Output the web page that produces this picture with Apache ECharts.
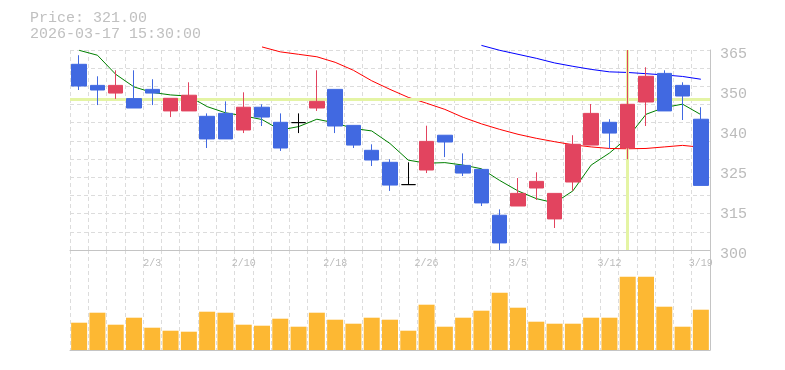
<!DOCTYPE html>
<html>
<head>
<meta charset="utf-8">
<script src="https://cdn.jsdelivr.net/npm/echarts@6/dist/echarts.min.js"></script>
<style>
html,body{margin:0;padding:0;background:#fff;}
#chart{width:785px;height:370px;}
</style>
</head>
<body>
<div id="chart"></div>
<script>
// ---- data ----
const dates = ['1/28','1/29','1/30','2/2','2/3','2/4','2/5','2/6','2/9','2/10','2/12','2/13','2/16','2/17','2/18','2/19','2/20','2/24','2/25','2/26','2/27','3/2','3/3','3/4','3/5','3/6','3/9','3/10','3/11','3/12','3/13','3/16','3/17','3/18','3/19'];
const opens  = [360.35,353.5,351.0,349.2,352.2,345.2,345.2,343.45,344.4,339.0,346.4,341.5,341.4,346.15,352.2,340.5,332.4,328.5,321.25,326.0,337.3,327.5,326.2,311.3,314.3,320.15,310.1,322.1,334.1,341.5,333.15,348.1,357.4,353.5,342.5];
const closes = [353.3,352.0,353.5,346.15,351.0,349.3,350.3,336.1,336.1,346.4,343.2,333.15,341.4,348.3,340.3,334.1,329.25,321.1,321.25,335.3,335.1,325.0,315.3,302.3,318.4,322.3,318.4,334.35,344.4,338.0,347.35,356.45,345.2,350.05,321.0];
const lows   = [352.0,347.1,349.1,346.15,347.1,343.2,345.2,333.15,336.1,338.0,340.3,332.2,338.0,345.2,338.0,333.15,327.3,319.2,321.25,325.0,330.2,324.05,314.3,300.0,314.3,316.25,307.15,319.2,334.1,333.05,329.5,340.3,345.2,342.25,321.0];
const highs  = [363.3,356.45,358.4,358.4,355.5,349.3,354.5,344.4,348.3,351.25,347.35,344.4,344.4,358.4,352.2,340.5,334.35,329.5,328.5,340.4,337.3,331.4,326.2,313.2,323.4,325.25,318.4,337.3,347.45,342.5,365.0,359.4,358.4,354.5,346.4];
const volumes = [27.3,37.3,25.3,32.3,22.3,19.3,18.3,38.3,37.3,25.3,24.3,31.3,23.3,37.3,30.3,26.3,32.3,30.3,19.3,45.3,23.3,32.3,39.3,57.3,42.3,28.3,26.3,26.3,32.3,32.3,73.3,73.3,43.3,23.3,40.3];
const ma5  = [364.9,363.3,357.1,353.0,351.2,350.4,350.0,346.6,344.6,343.6,342.4,339.0,340.1,342.5,341.3,339.5,338.7,334.6,329.2,328.2,328.4,327.6,326.4,322.6,319.2,316.7,315.3,319.2,327.6,331.5,336.5,344.1,346.3,347.4,344.0];
const ma25 = [null,null,null,null,null,null,null,null,null,null,366.0,364.4,363.6,362.8,361.0,358.4,355.0,352.2,349.6,347.7,345.7,343.1,341.0,339.2,337.6,336.3,335.2,334.2,333.5,333.0,332.9,333.0,333.5,334.0,333.4];
const ma75 = [null,null,null,null,null,null,null,null,null,null,null,null,null,null,null,null,null,null,null,null,null,null,366.5,364.9,363.6,362.3,360.8,359.7,358.7,357.9,357.7,357.3,356.9,356.4,355.5];
const yTickValues = [300,315,325,340,350,365];
const priceMin = 300, priceMax = 365, priceStep = 13;
const labelIndexes = [4,9,14,19,24,29,34];
const crossIndex = 30, crossPrice = 349.0;
const titleLines = ['Price: 321.00', '2026-03-17 15:30:00'];

// ---- chart ----
const candles = dates.map((d, i) => [opens[i], closes[i], lows[i], highs[i]]);
const FONT = 'Liberation Mono';
const GRID_LINE = {show: true, lineStyle: {color: '#dcdcdc', type: [4, 3], width: 1}};
const AXIS_LINE = {show: true, lineStyle: {color: '#c4c4c4', width: 1}};

const chart = echarts.init(document.getElementById('chart'), null, {renderer: 'canvas'});
chart.setOption({
  animation: false,
  backgroundColor: '#fff',
  graphic: [
    {type: 'text', left: 30, top: 11, style: {text: titleLines[0], font: '15px "' + FONT + '"', fill: '#c0c0c0'}},
    {type: 'text', left: 30, top: 27, style: {text: titleLines[1], font: '15px "' + FONT + '"', fill: '#c0c0c0'}}
  ],
  grid: [
    {left: 70, right: 75, top: 50, height: 200},
    {left: 70, right: 75, top: 250, height: 100}
  ],
  xAxis: [
    {type: 'category', gridIndex: 0, data: dates, boundaryGap: true,
     axisLine: AXIS_LINE, axisTick: {show: false},
     axisLabel: {interval: (idx) => labelIndexes.indexOf(idx) >= 0, color: '#bbb', fontFamily: FONT, fontSize: 10, margin: 8},
     splitLine: Object.assign({interval: 0}, GRID_LINE)},
    {type: 'category', gridIndex: 1, data: dates, boundaryGap: true,
     axisLine: AXIS_LINE, axisTick: {show: false}, axisLabel: {show: false},
     splitLine: Object.assign({interval: 0}, GRID_LINE)}
  ],
  yAxis: [
    {type: 'value', gridIndex: 0, position: 'right', min: priceMin, max: priceMax, interval: priceStep,
     axisLine: AXIS_LINE, axisTick: {show: false}, splitLine: {show: false},
     axisLabel: {color: '#bbb', fontFamily: FONT, fontSize: 15, margin: 10, verticalAlign: 'top', lineHeight: 8,
       formatter: (v) => String(yTickValues.reduce((a, b) => Math.abs(b - v) < Math.abs(a - v) ? b : a))}},
    {type: 'value', gridIndex: 0, position: 'left', min: 0, max: 11, interval: 1,
     axisLine: {show: false}, axisTick: {show: false}, axisLabel: {show: false},
     splitLine: GRID_LINE},
    {type: 'value', gridIndex: 1, position: 'right', min: 0, max: 100,
     axisLine: AXIS_LINE, axisTick: {show: false}, axisLabel: {show: false}, splitLine: {show: false}}
  ],
  series: [
    {type: 'line', xAxisIndex: 0, yAxisIndex: 0, data: [], z: 1, silent: true,
     markLine: {silent: true, symbol: ['none', 'none'], label: {show: false},
       lineStyle: {color: '#e4f4a4', width: 3, type: 'solid'},
       data: [{xAxis: crossIndex}, {yAxis: crossPrice}]}},
    {name: 'MA5', type: 'line', xAxisIndex: 0, yAxisIndex: 0, data: ma5, showSymbol: false, clip: false, z: 2,
     lineStyle: {color: '#008000', width: 1}},
    {name: 'MA25', type: 'line', xAxisIndex: 0, yAxisIndex: 0, data: ma25, showSymbol: false, clip: false, z: 2,
     lineStyle: {color: '#ff0000', width: 1}},
    {name: 'MA75', type: 'line', xAxisIndex: 0, yAxisIndex: 0, data: ma75, showSymbol: false, clip: false, z: 2,
     lineStyle: {color: '#0000ff', width: 1}},
    {name: 'Price', type: 'candlestick', xAxisIndex: 0, yAxisIndex: 0, data: candles, barWidth: 15, z: 5,
     itemStyle: {color: '#e2445f', color0: '#4169e1', borderColor: '#e2445f', borderColor0: '#4169e1',
                 borderColorDoji: '#000', borderWidth: 1}},
    {name: 'Volume', type: 'bar', xAxisIndex: 1, yAxisIndex: 2, data: volumes, barWidth: 16,
     itemStyle: {color: '#fdb833'}}
  ]
});
</script>
</body>
</html>
